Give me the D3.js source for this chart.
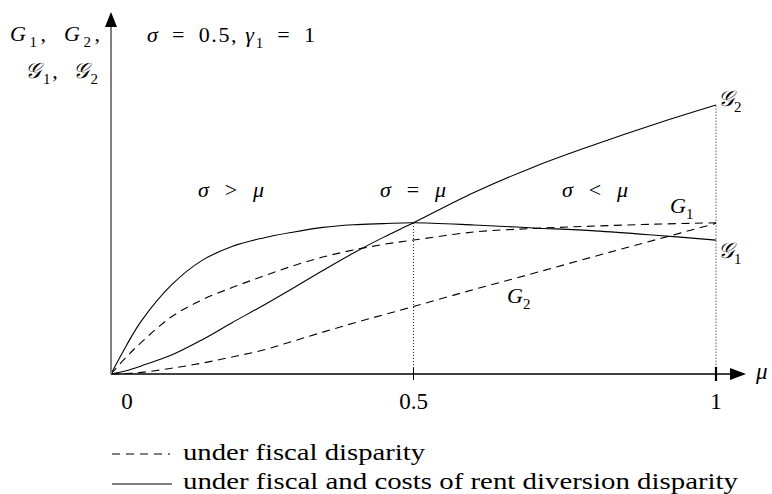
<!DOCTYPE html>
<html>
<head>
<meta charset="utf-8">
<script src="https://cdn.jsdelivr.net/npm/d3@7"></script>
<style>
    body { margin: 0; background: #fff; }
    svg text { font-family: "Liberation Serif", "Times New Roman", "DejaVu Serif", serif; fill: #000; }
</style>
</head>
<body>
<svg id="chart" width="772" height="494"></svg>
<script>
// mu grid and the four curves (y in arbitrary units)
const mu = [0, 0.025, 0.05, 0.1, 0.15, 0.2, 0.25, 0.3, 0.35, 0.4, 0.45, 0.5, 0.6, 0.7, 0.8, 0.9, 1];
const calG1 = [0, 0.104, 0.196, 0.330, 0.420, 0.472, 0.503, 0.525, 0.543, 0.553, 0.557, 0.560, 0.552, 0.541, 0.530, 0.514, 0.496];
const calG2 = [0, 0.012, 0.030, 0.070, 0.126, 0.190, 0.252, 0.317, 0.383, 0.447, 0.506, 0.560, 0.672, 0.768, 0.850, 0.926, 0.996];
const G1 = [0, 0.062, 0.117, 0.212, 0.274, 0.320, 0.361, 0.400, 0.433, 0.459, 0.480, 0.496, 0.526, 0.539, 0.548, 0.555, 0.560];
const G2 = [0, 0.002, 0.006, 0.021, 0.040, 0.063, 0.088, 0.121, 0.155, 0.188, 0.219, 0.250, 0.313, 0.374, 0.436, 0.497, 0.558];

const xTicks = [0, 0.5, 1];
const xTickLabels = ['0', '0.5', '1'];
const legendLabels = ['under fiscal disparity', 'under fiscal and costs of rent diversion disparity'];

const CAL = '\u{1D4A2}';
const SP = '\u2002';
const svg = d3.select('#chart');
const x = d3.scaleLinear().domain([0, 1]).range([111, 716]);
const y = d3.scaleLinear().domain([0, 1]).range([374, 104]);

const line = d3.line()
    .curve(d3.curveCatmullRom.alpha(0.5))
    .x(function (d) { return x(d[0]); })
    .y(function (d) { return y(d[1]); });

function series(vals) {
    return mu.map(function (m, i) { return [m, vals[i]]; });
}

// writes text made of italic letters, subscripts and plain pieces
function mathText(x0, y0, parts, width, size) {
    let t = svg.append('text')
        .attr('x', x0).attr('y', y0)
        .attr('font-size', size || 22);
    let shift = 0;
    parts.forEach(function (p) {
        let s = t.append('tspan').text(p.t);
        let target = p.sub ? 6 : 0;
        if (target !== shift) { s.attr('dy', target - shift); shift = target; }
        if (p.sub) s.attr('font-size', '0.68em');
        if (p.it) s.attr('font-style', 'italic');
        if (p.cal) s.attr('font-family', '"DejaVu Serif", "DejaVu Sans", serif').attr('font-style', 'italic');
    });
    if (width) t.attr('textLength', width).attr('lengthAdjust', 'spacing');
    return t;
}

// dotted guides
svg.append('line')
    .attr('x1', x(0.5)).attr('x2', x(0.5))
    .attr('y1', y(0)).attr('y2', y(calG1[mu.indexOf(0.5)]))
    .attr('stroke', '#222').attr('stroke-width', 1).attr('stroke-dasharray', '1,2');
svg.append('line')
    .attr('x1', x(1)).attr('x2', x(1))
    .attr('y1', y(0)).attr('y2', y(calG2[calG2.length - 1]))
    .attr('stroke', '#888').attr('stroke-width', 1.3).attr('stroke-dasharray', '1.4,1.6');

// curves
[[G1, true], [G2, true], [calG1, false], [calG2, false]].forEach(function (c) {
    svg.append('path')
        .datum(series(c[0]))
        .attr('d', line)
        .attr('fill', 'none')
        .attr('stroke', '#000')
        .attr('stroke-width', 1.1)
        .attr('stroke-dasharray', c[1] ? '8,5.5' : null);
});

// axes
svg.append('line')
    .attr('x1', x(0)).attr('x2', 730).attr('y1', y(0)).attr('y2', y(0))
    .attr('stroke', '#000').attr('stroke-width', 1.3);
svg.append('path').attr('d', 'M730,368L746,374L730,380Z').attr('fill', '#000');
svg.append('line')
    .attr('x1', x(0)).attr('x2', x(0)).attr('y1', y(0)).attr('y2', 27)
    .attr('stroke', '#808080').attr('stroke-width', 2);
svg.append('path').attr('d', 'M105,27L111,12L117,27Z').attr('fill', '#000');

// ticks
svg.append('line').attr('x1', x(0.5)).attr('x2', x(0.5)).attr('y1', 368).attr('y2', 380)
    .attr('stroke', '#000').attr('stroke-width', 1);
svg.append('line').attr('x1', x(1)).attr('x2', x(1)).attr('y1', 367).attr('y2', 381)
    .attr('stroke', '#000').attr('stroke-width', 2.2);
svg.selectAll('text.tick')
    .data(xTicks)
    .enter().append('text')
    .attr('class', 'tick')
    .attr('x', function (d) { return d === 0 ? x(d) + 16 : x(d); })
    .attr('y', 409)
    .attr('text-anchor', 'middle')
    .attr('font-size', 23)
    .text(function (d, i) { return xTickLabels[i]; });
mathText(756, 379, [{ t: 'μ', it: true }], null, 23);

// axis and parameter labels
mathText(10, 41, [{ t: 'G', it: true }, { t: '1', sub: true }, { t: ',' + SP }, { t: 'G', it: true }, { t: '2', sub: true }, { t: ',' }], 90);
mathText(25, 78, [{ t: CAL, cal: true }, { t: '1', sub: true }, { t: ',' + SP }, { t: CAL, cal: true }, { t: '2', sub: true }], 73);
mathText(147, 42, [{ t: 'σ', it: true }, { t: SP + '=' + SP + '0.5, ' }, { t: 'γ', it: true }, { t: '1', sub: true }, { t: SP + '=' + SP + '1' }], 168);

// regions
mathText(198, 197, [{ t: 'σ', it: true }, { t: SP + '>' + SP }, { t: 'μ', it: true }], 66);
mathText(380, 197, [{ t: 'σ', it: true }, { t: SP + '=' + SP }, { t: 'μ', it: true }], 66);
mathText(562, 197, [{ t: 'σ', it: true }, { t: SP + '<' + SP }, { t: 'μ', it: true }], 66);

// curve labels
mathText(670, 213, [{ t: 'G', it: true }, { t: '1', sub: true }]);
mathText(507, 303, [{ t: 'G', it: true }, { t: '2', sub: true }]);
mathText(x(1) + 2, 106, [{ t: CAL, cal: true }, { t: '2', sub: true }]);
mathText(x(1) + 2, 258, [{ t: CAL, cal: true }, { t: '1', sub: true }]);

// legend
svg.append('line').attr('x1', 112).attr('x2', 170).attr('y1', 454).attr('y2', 454)
    .attr('stroke', '#000').attr('stroke-width', 1.1).attr('stroke-dasharray', '8,6');
svg.append('line').attr('x1', 112).attr('x2', 172).attr('y1', 484).attr('y2', 484)
    .attr('stroke', '#000').attr('stroke-width', 1.1);
[[460, 242], [489, 555]].forEach(function (d, i) {
    svg.append('text')
        .attr('x', 183).attr('y', d[0])
        .attr('font-size', 23)
        .attr('textLength', d[1]).attr('lengthAdjust', 'spacingAndGlyphs')
        .text(legendLabels[i]);
});
</script>
</body>
</html>
